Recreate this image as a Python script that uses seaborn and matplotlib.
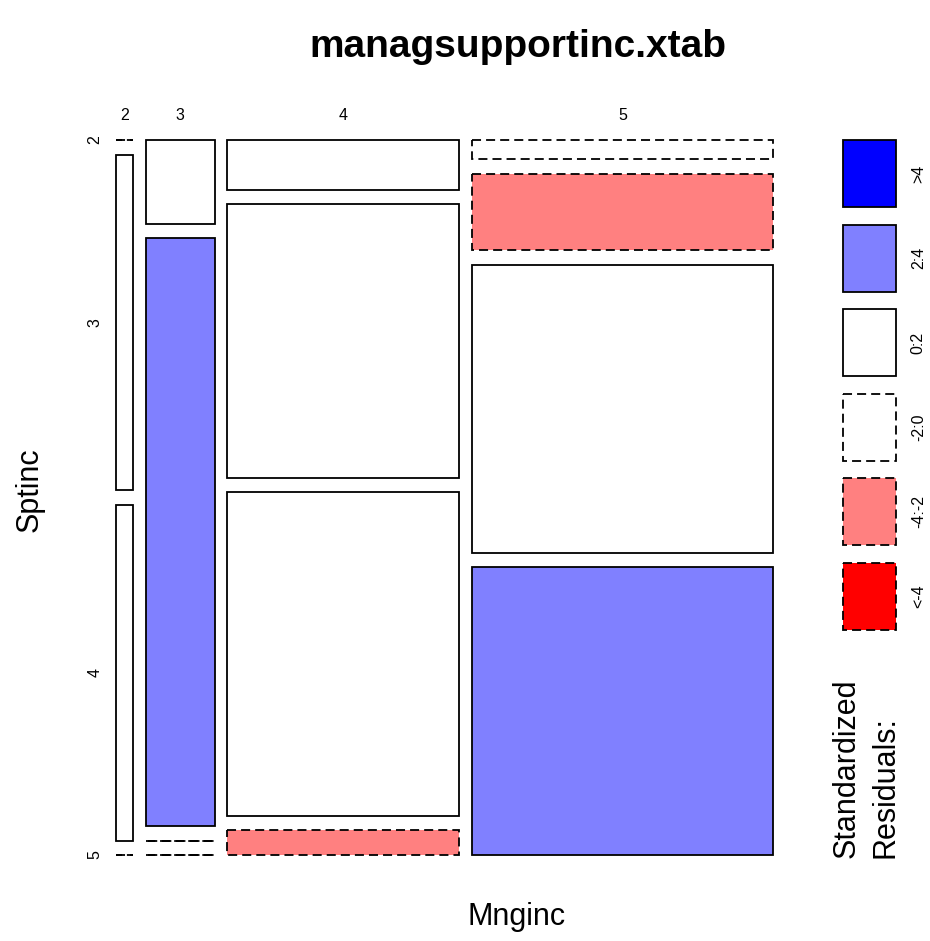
import numpy as np
import matplotlib
matplotlib.use("Agg")
import matplotlib.pyplot as plt
from matplotlib.patches import Rectangle
import seaborn as sns

# --- data: contingency table Mnginc (columns) x Sptinc (rows) ---
mnginc_levels = ["2", "3", "4", "5"]
sptinc_levels = ["2", "3", "4", "5"]
counts_mng2 = [0, 1, 1, 0]
counts_mng3 = [1, 7, 0, 0]
counts_mng4 = [2, 11, 13, 1]
counts_mng5 = [1, 4, 15, 15]

legend_labels = [">4", "2:4", "0:2", "-2:0", "-4:-2", "<-4"]
legend_colors = ["#0000FF", "#8080FF", "#FFFFFF", "#FFFFFF", "#FF8080", "#FF0000"]
legend_dashed = [False, False, False, True, True, True]

sns.set_theme(style="white")
plt.rcParams["font.family"] = ["Liberation Sans", "DejaVu Sans"]
plt.rcParams["text.color"] = "black"

table = np.array([counts_mng2, counts_mng3, counts_mng4, counts_mng5], dtype=float)
N = table.sum()
col_tot = table.sum(axis=1)
row_tot = table.sum(axis=0)
expected = np.outer(col_tot, row_tot) / N
resid = (table - expected) / np.sqrt(expected)


def shade(r):
    if r > 4:
        return 0
    if r > 2:
        return 1
    if r >= 0:
        return 2
    if r > -2:
        return 3
    if r > -4:
        return 4
    return 5


LW = 1.3
DASH = (0, (5, 2.8))

W, H = 930, 941
fig = plt.figure(figsize=(W / 100, H / 100), dpi=100)

# mosaic region
left, right, top, bottom = 116, 773, 140, 855
ax = fig.add_axes([left / W, 1 - bottom / H, (right - left) / W, (bottom - top) / H])
ax.set_xlim(0, 1)
ax.set_ylim(1, 0)
ax.axis("off")

gap_x = 12.5 / (right - left)
gap_y = 14.5 / (bottom - top)
ncol, nrow = table.shape
usable_x = 1 - (ncol - 1) * gap_x
usable_y = 1 - (nrow - 1) * gap_y

x0 = 0.0
for j in range(ncol):
    w = col_tot[j] / N * usable_x
    y0 = 0.0
    for i in range(nrow):
        h = table[j, i] / col_tot[j] * usable_y
        k = shade(resid[j, i])
        ls = DASH if legend_dashed[k] else "solid"
        # zero cells become flat (zero height) dashed boxes
        ax.add_patch(Rectangle((x0, y0), w, h, facecolor=legend_colors[k],
                               edgecolor="black", lw=LW, linestyle=ls,
                               clip_on=False))
        # row labels from the first column
        if j == 0:
            ax.text(-21 / (right - left), y0 + h / 2, sptinc_levels[i],
                    rotation=90, ha="center", va="center", fontsize=11.5)
        y0 += h + gap_y
    ax.text(x0 + w / 2, -25 / (bottom - top), mnginc_levels[j],
            ha="center", va="center", fontsize=11.5)
    x0 += w + gap_x

# legend of shading
lg_left, lg_right, lg_top, lg_bottom = 843, 896, 140, 630
lax = fig.add_axes([lg_left / W, 1 - lg_bottom / H,
                    (lg_right - lg_left) / W, (lg_bottom - lg_top) / H])
step = 84.6
box = 67 / step
lax.set_xlim(0, 1)
lax.set_ylim(5 + box, 0)
lax.axis("off")
for k, lab in enumerate(legend_labels):
    ls = DASH if legend_dashed[k] else "solid"
    lax.add_patch(Rectangle((0, k), 1, box, facecolor=legend_colors[k],
                            edgecolor="black", lw=LW, linestyle=ls, clip_on=False))
    lax.text(1.42, k + box / 2, lab, rotation=90, ha="center", va="center",
             fontsize=11.5)

fig.text(866 / W, 1 - 858 / H, "Standardized\nResiduals:", rotation=90,
         ha="center", va="bottom", multialignment="left", fontsize=22,
         linespacing=1.4)

fig.text(518 / W, 1 - 47 / H, "managsupportinc.xtab", ha="center", va="center",
         fontsize=28, fontweight="bold")
fig.text(517 / W, 1 - 917 / H, "Mnginc", ha="center", va="center", fontsize=22)
fig.text(30 / W, 1 - 490 / H, "Sptinc", rotation=90, ha="center", va="center",
         fontsize=22)

fig.savefig("out.png", dpi=100, facecolor="white")
